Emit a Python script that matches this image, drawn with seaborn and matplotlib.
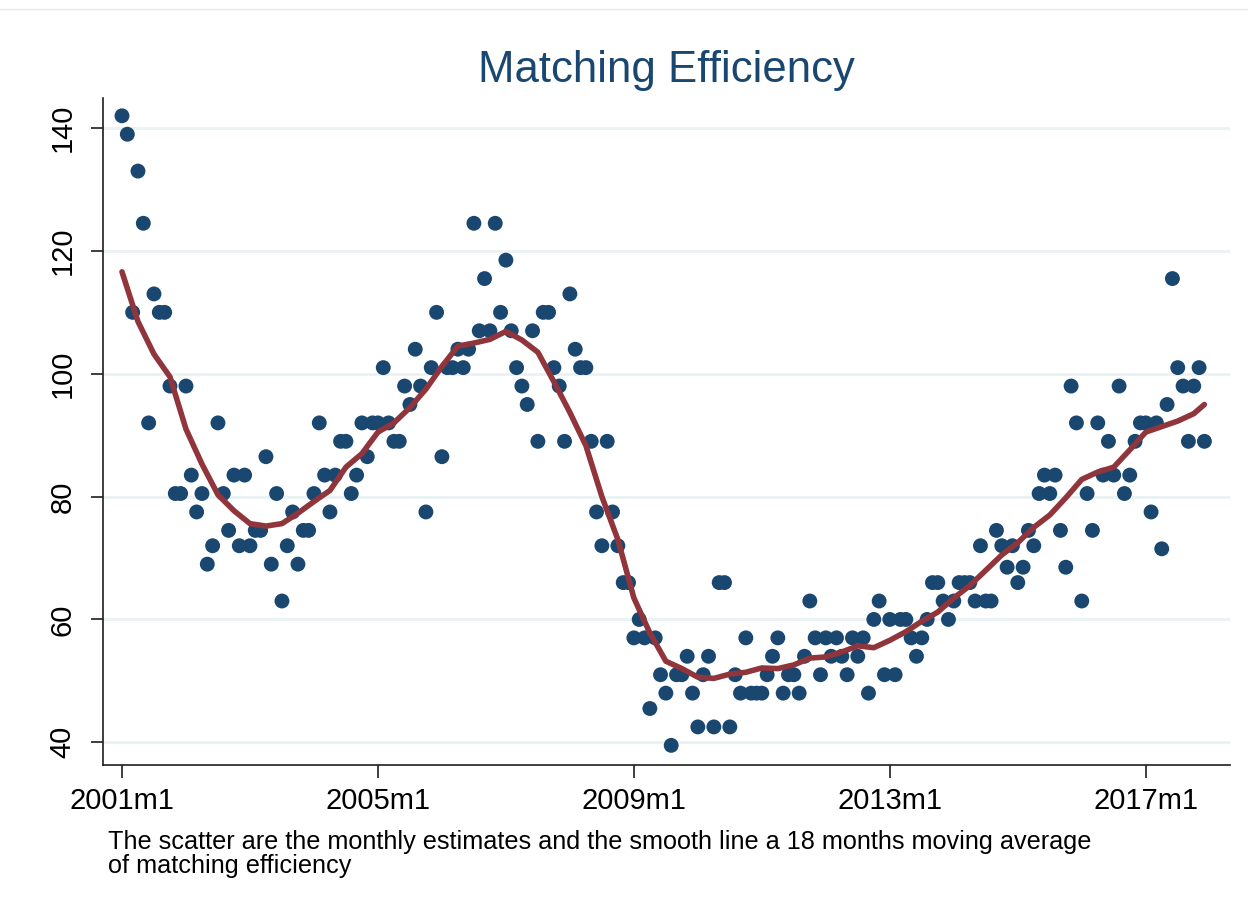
import numpy as np
import pandas as pd
import matplotlib
matplotlib.use("Agg")
import matplotlib.pyplot as plt
from matplotlib.lines import Line2D
import seaborn as sns

# monthly matching efficiency estimates, 2001m1 .. 2017m12
eff_2001 = [142, 139, 110, 133, 124.5, 92, 113, 110, 110, 98, 80.5, 80.5]
eff_2002 = [98, 83.5, 77.5, 80.5, 69, 72, 92, 80.5, 74.5, 83.5, 72, 83.5]
eff_2003 = [72, 74.5, 74.5, 86.5, 69, 80.5, 63, 72, 77.5, 69, 74.5, 74.5]
eff_2004 = [80.5, 92, 83.5, 77.5, 83.5, 89, 89, 80.5, 83.5, 92, 86.5, 92]
eff_2005 = [92, 101, 92, 89, 89, 98, 95, 104, 98, 77.5, 101, 110]
eff_2006 = [86.5, 101, 101, 104, 101, 104, 124.5, 107, 115.5, 107, 124.5, 110]
eff_2007 = [118.5, 107, 101, 98, 95, 107, 89, 110, 110, 101, 98, 89]
eff_2008 = [113, 104, 101, 101, 89, 77.5, 72, 89, 77.5, 72, 66, 66]
eff_2009 = [57, 60, 57, 45.5, 57, 51, 48, 39.5, 51, 51, 54, 48]
eff_2010 = [42.5, 51, 54, 42.5, 66, 66, 42.5, 51, 48, 57, 48, 48]
eff_2011 = [48, 51, 54, 57, 48, 51, 51, 48, 54, 63, 57, 51]
eff_2012 = [57, 54, 57, 54, 51, 57, 54, 57, 48, 60, 63, 51]
eff_2013 = [60, 51, 60, 60, 57, 54, 57, 60, 66, 66, 63, 60]
eff_2014 = [63, 66, 66, 66, 63, 72, 63, 63, 74.5, 72, 68.5, 72]
eff_2015 = [66, 68.5, 74.5, 72, 80.5, 83.5, 80.5, 83.5, 74.5, 68.5, 98, 92]
eff_2016 = [63, 80.5, 74.5, 92, 83.5, 89, 83.5, 98, 80.5, 83.5, 89, 92]
eff_2017 = [92, 77.5, 92, 71.5, 95, 115.5, 101, 98, 89, 98, 101, 89]

# 18 months moving average (months since 2001m1)
ma_month = list(range(0, 202, 3)) + [203]
ma_value = [116.6, 108.5, 103.2, 99.5, 91, 85.3, 80.3, 77.7, 75.6, 75.2,
            75.6, 77.3, 79.2, 81, 84.8, 87, 90.5, 92, 94.5, 97.5,
            101.2, 104.5, 105, 105.6, 106.9, 105.5, 103.5, 98.7, 93.7, 88.3,
            80, 73, 63.5, 57.8, 53.2, 52, 50.6, 50.4, 51.1, 51.4,
            52.1, 52, 52.6, 53.7, 53.9, 54.7, 55.7, 55.4, 56.6, 58,
            59.7, 61.2, 63.5, 65.5, 68, 70.5, 72.5, 75, 77, 79.8,
            82.8, 84, 84.8, 87.6, 90.5, 91.4, 92.3, 93.5, 95]

tick_months = [0, 48, 96, 144, 192]
tick_labels = ["2001m1", "2005m1", "2009m1", "2013m1", "2017m1"]
y_ticks = [40, 60, 80, 100, 120, 140]

efficiency = (eff_2001 + eff_2002 + eff_2003 + eff_2004 + eff_2005 + eff_2006
              + eff_2007 + eff_2008 + eff_2009 + eff_2010 + eff_2011 + eff_2012
              + eff_2013 + eff_2014 + eff_2015 + eff_2016 + eff_2017)
df = pd.DataFrame({"month": np.arange(len(efficiency)), "efficiency": efficiency})
df_ma = pd.DataFrame({"month": ma_month, "ma": ma_value})

sns.set_style("white")
plt.rcParams["font.family"] = ["Liberation Sans", "DejaVu Sans"]

navy = "#1a476f"
maroon = "#90353b"

fig = plt.figure(figsize=(12.48, 9.13), dpi=100)
ax = fig.add_axes([103 / 1248, 1 - 765 / 913, 1127 / 1248, 667 / 913])

sns.scatterplot(data=df, x="month", y="efficiency", color=navy, s=115,
                edgecolor="none", ax=ax, zorder=3)
sns.lineplot(data=df_ma, x="month", y="ma", color=maroon, linewidth=4.0,
             ax=ax, zorder=4)

ax.set_xlim(-3.56, 207.8)
ax.set_ylim(36.3, 144.9)
ax.set_xticks(tick_months)
ax.set_xticklabels(tick_labels, fontsize=21, color="black")
ax.set_yticks(y_ticks)
ax.set_yticklabels([str(v) for v in y_ticks], fontsize=21, rotation=90, va="center",
                   color="black")
ax.set_xlabel("")
ax.set_ylabel("")

for v in y_ticks:
    ax.axhline(v, color="#eaf2f3", linewidth=2.0, zorder=1)

for side in ["top", "right"]:
    ax.spines[side].set_visible(False)
for side in ["left", "bottom"]:
    ax.spines[side].set_color("#1e1e1e")
    ax.spines[side].set_linewidth(1.2)
ax.tick_params(axis="both", direction="out", length=9, width=1.2, color="#1e1e1e",
               left=True, bottom=True)
ax.tick_params(axis="y", pad=10)
ax.tick_params(axis="x", pad=7)

fig.text(666 / 1248, 1 - 82 / 913, "Matching Efficiency", fontsize=31.5,
         color=navy, ha="center", va="baseline")
fig.text(108 / 1248, 1 - 830 / 913,
         "The scatter are the monthly estimates and the smooth line a 18 months moving average\n"
         "of matching efficiency",
         fontsize=18.2, color="black", ha="left", va="top", linespacing=0.98)

fig.add_artist(Line2D([0, 1], [1 - 9 / 913, 1 - 9 / 913], color="#e6e6e6", linewidth=1))

fig.savefig("out.png", dpi=100, facecolor="white")
